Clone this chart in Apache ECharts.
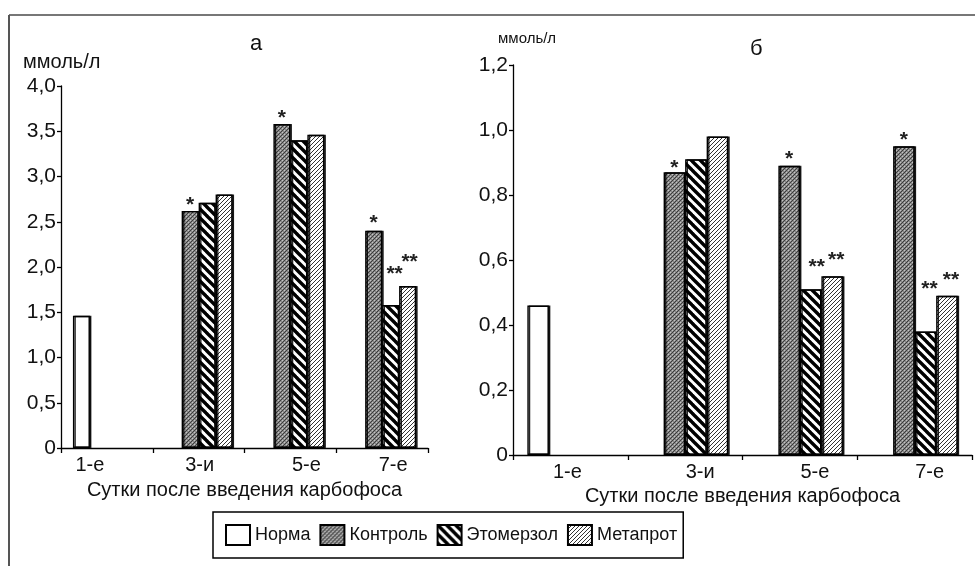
<!DOCTYPE html>
<html><head><meta charset="utf-8">
<script src="https://cdn.jsdelivr.net/npm/echarts@6/dist/echarts.min.js"></script>
<style>html,body{margin:0;padding:0;background:#fff}#c{width:975px;height:566px}</style>
</head><body><div id="c"></div>
<script>
// ---------- DATA ----------
const categories = ['1-е', '3-и', '5-е', '7-е'];
const seriesNames = ['Норма', 'Контроль', 'Этомерзол', 'Метапрот'];
const xAxisName = 'Сутки после введения карбофоса';
const unitName = 'ммоль/л';
const panelTitles = ['а', 'б'];
// panel а
const normaA = [1.46, null, null, null];
const controlA = [null, 2.62, 3.58, 2.40];
const etomerzolA = [null, 2.71, 3.40, 1.58];
const metaprotA = [null, 2.80, 3.46, 1.79];
// panel б
const normaB = [0.46, null, null, null];
const controlB = [null, 0.87, 0.89, 0.95];
const etomerzolB = [null, 0.91, 0.51, 0.38];
const metaprotB = [null, 0.98, 0.55, 0.49];
// significance markers
const normaMarks = ['', '', '', ''];
const controlMarksA = ['', '*', '*', '*'];
const etomerzolMarksA = ['', '', '', '**'];
const metaprotMarksA = ['', '', '', '**'];
const controlMarksB = ['', '*', '*', '*'];
const etomerzolMarksB = ['', '', '**', '**'];
const metaprotMarksB = ['', '', '**', '**'];
// tick labels
const yTicksA = ['0', '0,5', '1,0', '1,5', '2,0', '2,5', '3,0', '3,5', '4,0'];
const yTicksB = ['0', '0,2', '0,4', '0,6', '0,8', '1,0', '1,2'];

// ---------- STYLE ----------
const FONT = '"Liberation Sans", Arial, sans-serif';
// marker placement: lift of marker centre above bar top (px), horizontal shift (px)
const markLift = {
  A: { n: [0,0,0,0], c: [0,10,10,12], e: [0,0,0,35], m: [0,0,0,28] },
  B: { n: [0,0,0,0], c: [0,9,11,11], e: [0,0,27,47], m: [0,0,21,20] }
};
const markDx = {
  A: { n: [0,0,0,0], c: [0,0,0,0], e: [0,0,0,4], m: [0,0,0,2] },
  B: { n: [0,0,0,0], c: [0,0,0,0], e: [0,0,6,4], m: [0,0,4,4] }
};
const xLabelShift = { A: [-17, 1, 16, 11], B: [-3, 15, 15, 15] };

function makePattern(kind) {
  const cv = document.createElement('canvas');
  let p;
  if (kind === 'dots') {
    p = 4; cv.width = p; cv.height = p;
    const g = cv.getContext('2d');
    g.fillStyle = '#8a8a8a'; g.fillRect(0, 0, p, p);
    g.fillStyle = '#3c3c3c'; g.fillRect(0, 0, 1, 1); g.fillRect(2, 2, 1, 1); g.fillRect(1, 3, 1, 1); g.fillRect(3, 1, 1, 1);
    g.fillStyle = '#c4c4c4'; g.fillRect(2, 0, 1, 1); g.fillRect(0, 2, 1, 1);
  } else if (kind === 'back') {
    p = 9; cv.width = p; cv.height = p;
    const g = cv.getContext('2d');
    g.fillStyle = '#fff'; g.fillRect(0, 0, p, p);
    g.strokeStyle = '#000'; g.lineWidth = 3.4;
    for (const k of [-p, 0, p]) { g.beginPath(); g.moveTo(k - 1, -1); g.lineTo(k + p + 1, p + 1); g.stroke(); }
  } else {
    p = 4; cv.width = p; cv.height = p;
    const g = cv.getContext('2d');
    g.fillStyle = '#fff'; g.fillRect(0, 0, p, p);
    g.strokeStyle = '#333'; g.lineWidth = 1;
    for (const k of [-p, 0, p]) { g.beginPath(); g.moveTo(k - 1, p + 1); g.lineTo(k + p + 1, -1); g.stroke(); }
  }
  return { image: cv, repeat: 'repeat' };
}
const fills = ['#ffffff', makePattern('dots'), makePattern('back'), makePattern('fwd')];

function buildData(values, marks, lifts, dxs) {
  return values.map((v, i) => {
    if (v == null) return '-';
    const item = { value: v };
    if (marks[i]) {
      item.label = {
        show: true, position: 'top', distance: 0,
        formatter: marks[i], fontSize: 21, fontWeight: 'bold', fontFamily: FONT, color: '#222',
        lineHeight: 20, offset: [dxs[i], -(lifts[i] - 14.5)]
      };
    }
    return item;
  });
}

function makeSeries(panel, idx, values, marks, key) {
  return {
    type: 'bar', name: seriesNames[idx], xAxisIndex: panel === 'A' ? 0 : 1, yAxisIndex: panel === 'A' ? 0 : 1,
    barGap: '0%', barCategoryGap: panel === 'A' ? '26%' : '25%',
    itemStyle: { color: fills[idx], borderColor: '#000', borderWidth: 1.4,
      shadowColor: 'rgba(0,0,0,0.85)', shadowOffsetX: 1.5, shadowOffsetY: 0, shadowBlur: 0 },
    emphasis: { disabled: true },
    data: buildData(values, marks, markLift[panel][key], markDx[panel][key])
  };
}

function xAxisCfg(gridIndex, panel, nameGap) {
  return {
    type: 'category', gridIndex,
    data: categories.map((c, i) => ({ value: c, textStyle: { padding: xLabelShift[panel][i] >= 0 ? [0, 0, 0, 2 * xLabelShift[panel][i]] : [0, -2 * xLabelShift[panel][i], 0, 0] } })),
    axisLine: { lineStyle: { color: '#000', width: 1.3 } },
    axisTick: { show: true, length: 5, lineStyle: { color: '#000', width: 1.3 } },
    axisLabel: { fontSize: 20, fontFamily: FONT, color: '#111', margin: 7 },
    name: xAxisName, nameLocation: 'middle', nameGap,
    nameTextStyle: { fontSize: 20, fontFamily: FONT, color: '#111' }
  };
}
function yAxisCfg(gridIndex, max, interval, ticks) {
  return {
    type: 'value', gridIndex, min: 0, max, interval,
    splitLine: { show: false },
    axisLine: { show: true, lineStyle: { color: '#000', width: 1.3 } },
    axisTick: { show: true, length: 4, lineStyle: { color: '#000', width: 1.3 } },
    axisLabel: { fontSize: 21, fontFamily: FONT, color: '#111', margin: 5,
      formatter: v => ticks[Math.round(v / interval)] }
  };
}

const chart = echarts.init(document.getElementById('c'), null, { renderer: 'canvas' });
chart.setOption({
  animation: false,
  backgroundColor: '#fff',
  grid: [
    { left: 61, top: 86, width: 367, height: 362 },
    { left: 513, top: 65, width: 459, height: 390 }
  ],
  xAxis: [xAxisCfg(0, 'A', 32), xAxisCfg(1, 'B', 30)],
  yAxis: [yAxisCfg(0, 4, 0.5, yTicksA), yAxisCfg(1, 1.2, 0.2, yTicksB)],
  legend: {
    left: 213, top: 512, orient: 'horizontal', data: seriesNames, selectedMode: false,
    icon: 'rect', itemWidth: 24, itemHeight: 20, itemGap: 9,
    padding: [12, 6, 12, 12], borderColor: '#000', borderWidth: 1.5,
    itemStyle: { shadowOffsetX: 0, shadowColor: 'transparent' },
    textStyle: { fontSize: 18, fontFamily: FONT, color: '#111' }
  },
  graphic: [
    { type: 'line', shape: { x1: 9, y1: 15, x2: 975, y2: 15 }, style: { stroke: '#777', lineWidth: 2 } },
    { type: 'line', shape: { x1: 9, y1: 15, x2: 9, y2: 566 }, style: { stroke: '#555', lineWidth: 2 } },
    { type: 'text', left: 250, top: 33, style: { text: panelTitles[0], fontSize: 22, fontFamily: FONT, fill: '#111' } },
    { type: 'text', left: 750, top: 38, style: { text: panelTitles[1], fontSize: 22, fontFamily: FONT, fill: '#111' } },
    { type: 'text', left: 23, top: 52, style: { text: unitName, fontSize: 20, fontFamily: FONT, fill: '#111' } },
    { type: 'text', left: 498, top: 31, style: { text: unitName, fontSize: 15, fontFamily: FONT, fill: '#111' } }
  ],
  series: [
    makeSeries('A', 0, normaA, normaMarks, 'n'),
    makeSeries('A', 1, controlA, controlMarksA, 'c'),
    makeSeries('A', 2, etomerzolA, etomerzolMarksA, 'e'),
    makeSeries('A', 3, metaprotA, metaprotMarksA, 'm'),
    makeSeries('B', 0, normaB, normaMarks, 'n'),
    makeSeries('B', 1, controlB, controlMarksB, 'c'),
    makeSeries('B', 2, etomerzolB, etomerzolMarksB, 'e'),
    makeSeries('B', 3, metaprotB, metaprotMarksB, 'm')
  ]
});
</script>
</body></html>
